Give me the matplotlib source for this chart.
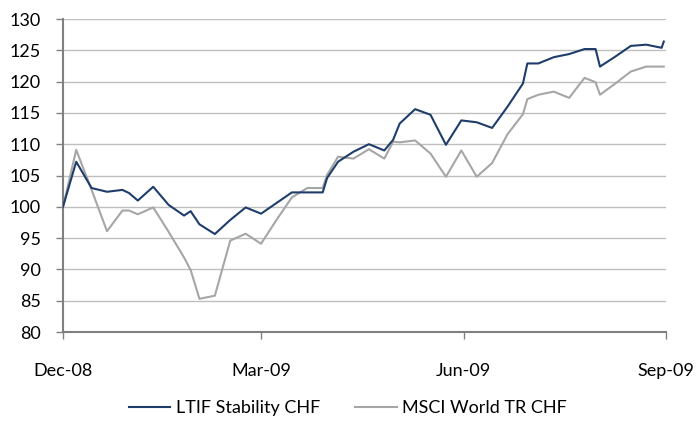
import pandas as pd
import matplotlib
matplotlib.use("Agg")
import matplotlib.pyplot as plt

dates = [
    "2008-12-01", "2008-12-07", "2008-12-14", "2008-12-21", "2008-12-28", "2008-12-31",
    "2009-01-04", "2009-01-11", "2009-01-18", "2009-01-25", "2009-01-28", "2009-02-01",
    "2009-02-08", "2009-02-15", "2009-02-22", "2009-03-01", "2009-03-08", "2009-03-15",
    "2009-03-22", "2009-03-29", "2009-03-31", "2009-04-05", "2009-04-12", "2009-04-19",
    "2009-04-26", "2009-04-30", "2009-05-03", "2009-05-10", "2009-05-17", "2009-05-24",
    "2009-05-31", "2009-06-07", "2009-06-14", "2009-06-21", "2009-06-28", "2009-06-30",
    "2009-07-05", "2009-07-12", "2009-07-19", "2009-07-26", "2009-07-31", "2009-08-02",
    "2009-08-09", "2009-08-16", "2009-08-23", "2009-08-30", "2009-08-31",
]

ltif = [
    100.0, 107.2, 103.0, 102.4, 102.7, 102.2, 101.0, 103.2, 100.3, 98.6, 99.3, 97.2,
    95.65, 97.9, 99.9, 98.9, 100.6, 102.3, 102.3, 102.3, 104.6, 107.2, 108.8, 110.0,
    109.0, 110.7, 113.3, 115.6, 114.7, 109.9, 113.8, 113.5, 112.6, 116.0, 119.7, 122.9,
    122.9, 123.9, 124.4, 125.2, 125.2, 122.4, 124.0, 125.7, 125.9, 125.4, 126.4,
]

msci = [
    100.0, 109.1, 102.7, 96.1, 99.4, 99.4, 98.8, 99.9, 96.0, 91.9, 89.9, 85.3,
    85.8, 94.6, 95.7, 94.1, 97.9, 101.5, 103.0, 103.0, 105.1, 108.0, 107.7, 109.2,
    107.7, 110.4, 110.3, 110.6, 108.5, 104.8, 109.0, 104.8, 107.0, 111.6, 114.8, 117.2,
    117.9, 118.4, 117.4, 120.6, 119.9, 117.9, 119.7, 121.6, 122.4, 122.4, 122.4,
]

x_ticks = ["2008-12-01", "2009-03-01", "2009-06-01", "2009-09-01"]
x_labels = ["Dec-08", "Mar-09", "Jun-09", "Sep-09"]

plt.rcParams["font.family"] = ["Lato", "DejaVu Sans"]

t = pd.to_datetime(dates)
fig = plt.figure(figsize=(6.96, 4.30), dpi=100)
ax = fig.add_axes([63 / 696, 1 - 332 / 430, (666 - 63) / 696, (332 - 19) / 430])

ax.plot(t, ltif, color="#1f3d6b", lw=1.5, label="LTIF Stability CHF", zorder=3)
ax.plot(t, msci, color="#a6a6a6", lw=1.5, label="MSCI World TR CHF", zorder=2)

ax.set_xlim(pd.Timestamp("2008-12-01"), pd.Timestamp("2009-09-01"))
ax.set_ylim(80, 130)
ax.set_yticks(range(80, 131, 5))
ax.set_xticks(pd.to_datetime(x_ticks))
ax.set_xticklabels(x_labels)

ax.grid(axis="y", color="#bfbfbf", lw=1.0)
ax.set_axisbelow(True)
for s in ("top", "right"):
    ax.spines[s].set_visible(False)
for s in ("left", "bottom"):
    ax.spines[s].set_color("#808080")
    ax.spines[s].set_linewidth(1.5)
ax.tick_params(axis="both", colors="#808080", length=5, width=1.0,
               labelcolor="black", labelsize=13)
ax.tick_params(axis="x", pad=17)
ax.tick_params(axis="y", pad=11)

# legend row under the plot
fig.legend(loc="center", bbox_to_anchor=(0.5, 1 - 408 / 430), ncol=2,
           frameon=False, fontsize=13, handlelength=2.3, handletextpad=0.3,
           columnspacing=1.95)

fig.savefig("out.png", dpi=100)
